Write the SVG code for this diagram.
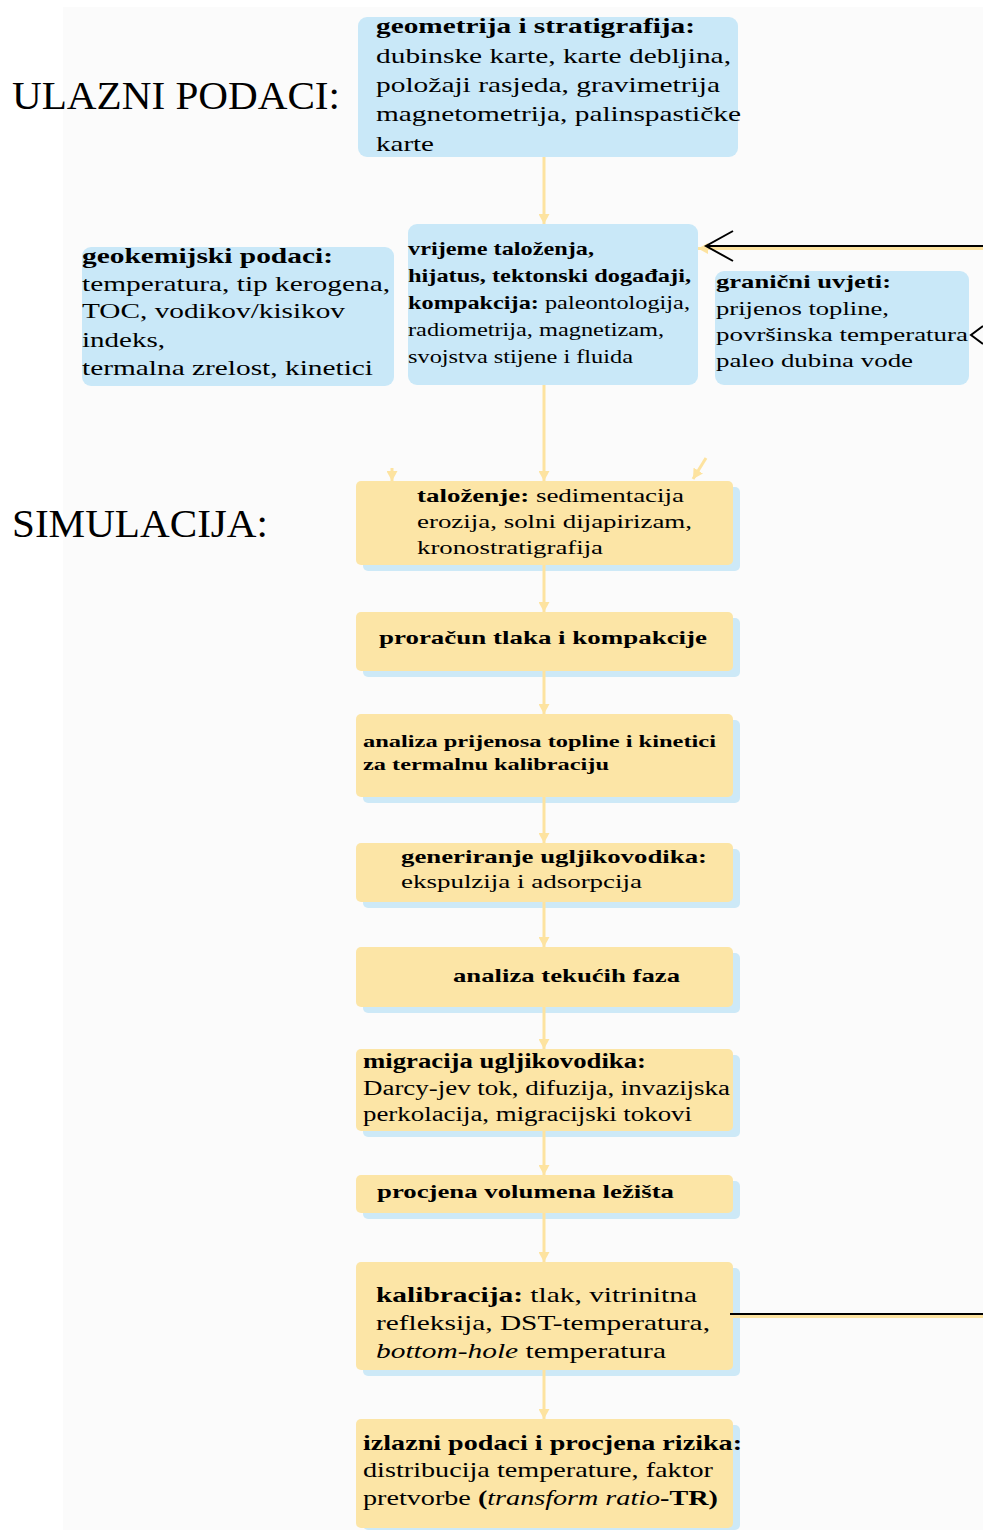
<svg xmlns="http://www.w3.org/2000/svg" width="983" height="1530" viewBox="0 0 983 1530">
<style>
.bg{fill:#fbfbfb}
.blue{fill:#c9e8f8}
.yel{fill:#fce5a6}
.shd{fill:#cde9f7}
.t{font-family:"Liberation Serif","Times New Roman",serif;fill:#000}
.h{font-family:"Liberation Serif","Times New Roman",serif;font-size:41px;fill:#000}
.b{font-weight:bold}
.i{font-style:italic}
.conn{stroke:#fde3a0;stroke-width:3;fill:none}
.blk{stroke:#000;stroke-width:2;fill:none}
</style>
<defs>
<marker id="ah" markerUnits="userSpaceOnUse" markerWidth="11" markerHeight="11" refX="10" refY="5.5" orient="auto">
<path d="M0,0 L10,5.5 L0,11 z" fill="#fde3a0"/>
</marker>
</defs>
<rect width="983" height="1530" fill="#ffffff"/>
<rect class="bg" x="63" y="7" width="920" height="1523"/>

<g id="labels">
<text class="h" x="12" y="109" textLength="328" lengthAdjust="spacingAndGlyphs">ULAZNI PODACI:</text>
<text class="h" x="12" y="537" textLength="256" lengthAdjust="spacingAndGlyphs">SIMULACIJA:</text>
</g>

<g id="n-geometrija">
<rect class="blue" x="358" y="17" width="380" height="140" rx="9"/>
<text class="t b" x="376" y="33" font-size="22" textLength="319" lengthAdjust="spacingAndGlyphs">geometrija i stratigrafija:</text>
<text class="t" x="376" y="63" font-size="22" textLength="355" lengthAdjust="spacingAndGlyphs">dubinske karte, karte debljina,</text>
<text class="t" x="376" y="92" font-size="22" textLength="344" lengthAdjust="spacingAndGlyphs">položaji rasjeda, gravimetrija</text>
<text class="t" x="376" y="121" font-size="22" textLength="365" lengthAdjust="spacingAndGlyphs">magnetometrija, palinspastičke</text>
<text class="t" x="376" y="151" font-size="22" textLength="58" lengthAdjust="spacingAndGlyphs">karte</text>
</g>

<g id="n-geokemijski">
<rect class="blue" x="82" y="247" width="312" height="139" rx="9"/>
<text class="t b" x="82" y="263" font-size="21" textLength="251" lengthAdjust="spacingAndGlyphs">geokemijski podaci:</text>
<text class="t" x="82" y="291" font-size="21" textLength="308" lengthAdjust="spacingAndGlyphs">temperatura, tip kerogena,</text>
<text class="t" x="82" y="318" font-size="21" textLength="263" lengthAdjust="spacingAndGlyphs">TOC, vodikov/kisikov</text>
<text class="t" x="82" y="347" font-size="21" textLength="83" lengthAdjust="spacingAndGlyphs">indeks,</text>
<text class="t" x="82" y="375" font-size="21" textLength="291" lengthAdjust="spacingAndGlyphs">termalna zrelost, kinetici</text>
</g>

<g id="n-vrijeme">
<rect class="blue" x="408" y="224" width="290" height="161" rx="9"/>
<text class="t b" x="408" y="255" font-size="19" textLength="186" lengthAdjust="spacingAndGlyphs">vrijeme taloženja,</text>
<text class="t b" x="408" y="282" font-size="19" textLength="283" lengthAdjust="spacingAndGlyphs">hijatus, tektonski događaji,</text>
<text class="t" x="408" y="309" font-size="19" textLength="282" lengthAdjust="spacingAndGlyphs"><tspan class="b">kompakcija:</tspan> paleontologija,</text>
<text class="t" x="408" y="336" font-size="19" textLength="256" lengthAdjust="spacingAndGlyphs">radiometrija, magnetizam,</text>
<text class="t" x="408" y="363" font-size="19" textLength="225" lengthAdjust="spacingAndGlyphs">svojstva stijene i fluida</text>
</g>

<g id="n-granicni">
<rect class="blue" x="715" y="271" width="254" height="114" rx="9"/>
<text class="t b" x="716" y="288" font-size="19" textLength="175" lengthAdjust="spacingAndGlyphs">granični uvjeti:</text>
<text class="t" x="716" y="315" font-size="19" textLength="173" lengthAdjust="spacingAndGlyphs">prijenos topline,</text>
<text class="t" x="716" y="341" font-size="19" textLength="252" lengthAdjust="spacingAndGlyphs">površinska temperatura</text>
<text class="t" x="716" y="367" font-size="19" textLength="197" lengthAdjust="spacingAndGlyphs">paleo dubina vode</text>
</g>

<g id="n-talozenje">
<rect class="shd" x="363" y="487" width="377" height="84" rx="5"/>
<rect class="yel" x="356" y="481" width="377" height="84" rx="5"/>
<text class="t" x="417" y="502" font-size="19" textLength="267" lengthAdjust="spacingAndGlyphs"><tspan class="b">taloženje:</tspan> sedimentacija</text>
<text class="t" x="417" y="528" font-size="19" textLength="275" lengthAdjust="spacingAndGlyphs">erozija, solni dijapirizam,</text>
<text class="t" x="417" y="554" font-size="19" textLength="186" lengthAdjust="spacingAndGlyphs">kronostratigrafija</text>
</g>

<g id="n-proracun">
<rect class="shd" x="363" y="618" width="377" height="59" rx="5"/>
<rect class="yel" x="356" y="612" width="377" height="59" rx="5"/>
<text class="t b" x="379" y="644" font-size="19" textLength="328" lengthAdjust="spacingAndGlyphs">proračun tlaka i kompakcije</text>
</g>

<g id="n-analiza-topline">
<rect class="shd" x="363" y="720" width="377" height="83" rx="5"/>
<rect class="yel" x="356" y="714" width="377" height="83" rx="5"/>
<text class="t b" x="363" y="747" font-size="17" textLength="353" lengthAdjust="spacingAndGlyphs">analiza prijenosa topline i kinetici</text>
<text class="t b" x="363" y="770" font-size="17" textLength="246" lengthAdjust="spacingAndGlyphs">za termalnu kalibraciju</text>
</g>

<g id="n-generiranje">
<rect class="shd" x="363" y="849" width="377" height="59" rx="5"/>
<rect class="yel" x="356" y="843" width="377" height="59" rx="5"/>
<text class="t b" x="401" y="863" font-size="19" textLength="306" lengthAdjust="spacingAndGlyphs">generiranje ugljikovodika:</text>
<text class="t" x="401" y="888" font-size="19" textLength="241" lengthAdjust="spacingAndGlyphs">ekspulzija i adsorpcija</text>
</g>

<g id="n-tekucih">
<rect class="shd" x="363" y="953" width="377" height="60" rx="5"/>
<rect class="yel" x="356" y="947" width="377" height="60" rx="5"/>
<text class="t b" x="453" y="982" font-size="19" textLength="227" lengthAdjust="spacingAndGlyphs">analiza tekućih faza</text>
</g>

<g id="n-migracija">
<rect class="shd" x="363" y="1055" width="377" height="82" rx="5"/>
<rect class="yel" x="356" y="1049" width="377" height="82" rx="5"/>
<text class="t b" x="363" y="1068" font-size="20" textLength="283" lengthAdjust="spacingAndGlyphs">migracija ugljikovodika:</text>
<text class="t" x="363" y="1095" font-size="20" textLength="367" lengthAdjust="spacingAndGlyphs">Darcy-jev tok, difuzija, invazijska</text>
<text class="t" x="363" y="1121" font-size="20" textLength="329" lengthAdjust="spacingAndGlyphs">perkolacija, migracijski tokovi</text>
</g>

<g id="n-procjena">
<rect class="shd" x="363" y="1181" width="377" height="38" rx="5"/>
<rect class="yel" x="356" y="1175" width="377" height="38" rx="5"/>
<text class="t b" x="377" y="1198" font-size="19" textLength="297" lengthAdjust="spacingAndGlyphs">procjena volumena ležišta</text>
</g>

<g id="n-kalibracija">
<rect class="shd" x="363" y="1268" width="377" height="108" rx="5"/>
<rect class="yel" x="356" y="1262" width="377" height="108" rx="5"/>
<text class="t" x="376" y="1302" font-size="22" textLength="321" lengthAdjust="spacingAndGlyphs"><tspan class="b">kalibracija:</tspan> tlak, vitrinitna</text>
<text class="t" x="376" y="1330" font-size="22" textLength="334" lengthAdjust="spacingAndGlyphs">refleksija, DST-temperatura,</text>
<text class="t" x="376" y="1358" font-size="22" textLength="290" lengthAdjust="spacingAndGlyphs"><tspan class="i">bottom-hole</tspan> temperatura</text>
</g>

<g id="n-izlazni">
<rect class="shd" x="363" y="1425" width="377" height="105" rx="5"/>
<rect class="yel" x="356" y="1419" width="377" height="109" rx="5"/>
<text class="t b" x="363" y="1450" font-size="21" textLength="379" lengthAdjust="spacingAndGlyphs">izlazni podaci i procjena rizika:</text>
<text class="t" x="363" y="1477" font-size="21" textLength="350" lengthAdjust="spacingAndGlyphs">distribucija temperature, faktor</text>
<text class="t" x="363" y="1505" font-size="21" textLength="355" lengthAdjust="spacingAndGlyphs">pretvorbe <tspan class="b">(</tspan><tspan class="i">transform ratio</tspan><tspan class="b">-TR)</tspan></text>
</g>

<g id="connectors">
<path class="conn" d="M544,157 L544,224" marker-end="url(#ah)"/>
<path class="conn" d="M544,385 L544,481" marker-end="url(#ah)"/>
<path class="conn" d="M392,468 L392,481" marker-end="url(#ah)"/>
<path class="conn" d="M706,458 L693,479" marker-end="url(#ah)"/>
<path class="conn" d="M544,565 L544,612" marker-end="url(#ah)"/>
<path class="conn" d="M544,671 L544,714" marker-end="url(#ah)"/>
<path class="conn" d="M544,797 L544,843" marker-end="url(#ah)"/>
<path class="conn" d="M544,902 L544,947" marker-end="url(#ah)"/>
<path class="conn" d="M544,1007 L544,1049" marker-end="url(#ah)"/>
<path class="conn" d="M544,1131 L544,1175" marker-end="url(#ah)"/>
<path class="conn" d="M544,1213 L544,1262" marker-end="url(#ah)"/>
<path class="conn" d="M544,1370 L544,1419" marker-end="url(#ah)"/>
<path class="conn" d="M983,248.5 L698,248.5" marker-end="url(#ah)"/>
<path class="conn" d="M983,1316.5 L733,1316.5"/>
<path class="blk" d="M983,246 L707,246"/>
<path class="blk" d="M733,231 L706,246 L733,261"/>
<path class="blk" d="M983,326 L971,335 L983,344"/>
<path class="blk" d="M730,1314 L983,1314"/>
</g>
</svg>
